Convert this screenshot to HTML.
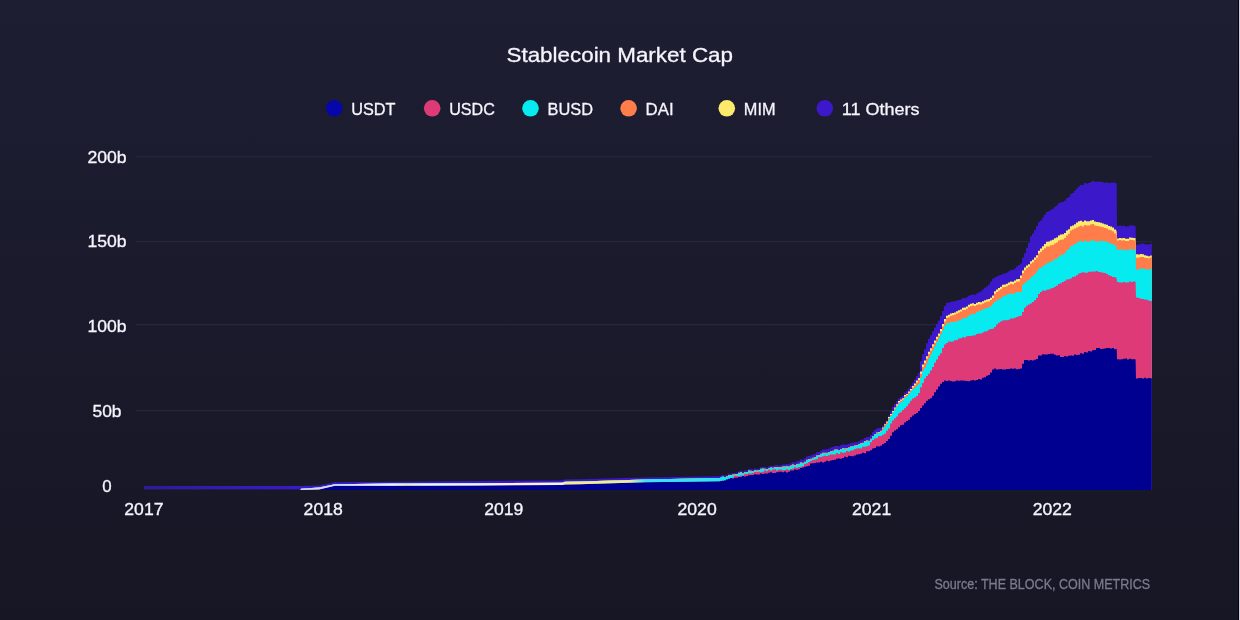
<!DOCTYPE html>
<html><head><meta charset="utf-8"><style>
html,body{margin:0;padding:0;}
body{width:1240px;height:620px;overflow:hidden;background:linear-gradient(to bottom,#1e1e33 0%,#1a1a2c 50%,#161624 100%);}
svg{display:block;position:absolute;left:0;top:0;will-change:transform;}
text{font-family:"Liberation Sans", sans-serif;}
</style></head><body>
<svg width="1240" height="620" viewBox="0 0 1240 620">
<rect x="135.5" y="156" width="1016.5" height="1.3" fill="#26253b"/><rect x="135.5" y="241" width="1016.5" height="1.3" fill="#26253b"/><rect x="135.5" y="324" width="1016.5" height="1.3" fill="#26253b"/><rect x="135.5" y="410" width="1016.5" height="1.3" fill="#26253b"/>
<defs><linearGradient id="lg" gradientUnits="userSpaceOnUse" x1="300" y1="0" x2="722" y2="0"><stop offset="0" stop-color="#d8d0ee"/><stop offset="0.22" stop-color="#f4eefa"/><stop offset="0.25" stop-color="#f0ecc0"/><stop offset="0.3" stop-color="#f6f2fa"/><stop offset="0.62" stop-color="#f6f2fa"/><stop offset="0.63" stop-color="#f2ea90"/><stop offset="0.78" stop-color="#f2e8a0"/><stop offset="0.82" stop-color="#3ee0f0"/><stop offset="1" stop-color="#2ee2f4"/></linearGradient><linearGradient id="pg" gradientUnits="userSpaceOnUse" x1="144" y1="0" x2="300" y2="0"><stop offset="0" stop-color="#2c1e92"/><stop offset="0.5" stop-color="#301ea6"/><stop offset="1" stop-color="#3a1ac6"/></linearGradient></defs><path d="M144.0,490 L144.0,486.2 L300.0,486.0 L319.0,485.5 L335.0,482.3 L393.0,481.8 L480.0,481.0 L562.0,480.6 L565.0,479.6 L580.0,479.2 L645.0,477.5 L720.0,476.2 L722.0,475.0 L724.0,475.0 L724.0,475.6 L726.0,475.6 L726.0,475.0 L728.0,475.0 L728.0,473.8 L730.0,473.8 L730.0,473.7 L732.0,473.7 L732.0,473.2 L734.0,473.2 L734.0,473.1 L736.0,473.1 L736.0,472.8 L738.0,472.8 L738.0,471.4 L740.0,471.4 L740.0,470.8 L742.0,470.8 L742.0,471.5 L744.0,471.5 L744.0,470.5 L746.0,470.5 L746.0,470.5 L748.0,470.5 L748.0,469.0 L750.0,469.0 L750.0,469.3 L752.0,469.3 L752.0,469.4 L754.0,469.4 L754.0,468.4 L756.0,468.4 L756.0,469.1 L758.0,469.1 L758.0,468.7 L760.0,468.7 L760.0,467.2 L762.0,467.2 L762.0,466.9 L764.0,466.9 L764.0,467.3 L766.0,467.3 L766.0,467.5 L768.0,467.5 L768.0,466.4 L770.0,466.4 L770.0,466.0 L772.0,466.0 L772.0,466.0 L774.0,466.0 L774.0,465.3 L776.0,465.3 L776.0,465.3 L778.0,465.3 L778.0,465.4 L780.0,465.4 L780.0,465.2 L782.0,465.2 L782.0,464.6 L784.0,464.6 L784.0,464.4 L786.0,464.4 L786.0,464.1 L788.0,464.1 L788.0,464.2 L790.0,464.2 L790.0,463.3 L792.0,463.3 L792.0,462.2 L794.0,462.2 L794.0,462.6 L796.0,462.6 L796.0,461.4 L798.0,461.4 L798.0,460.8 L800.0,460.8 L800.0,459.4 L802.0,459.4 L802.0,459.7 L804.0,459.7 L804.0,458.6 L806.0,458.6 L806.0,456.6 L808.0,456.6 L808.0,455.9 L810.0,455.9 L810.0,455.5 L812.0,455.5 L812.0,454.5 L814.0,454.5 L814.0,453.9 L816.0,453.9 L816.0,452.2 L818.0,452.2 L818.0,451.9 L820.0,451.9 L820.0,450.7 L822.0,450.7 L822.0,449.6 L824.0,449.6 L824.0,449.5 L826.0,449.5 L826.0,449.3 L828.0,449.3 L828.0,448.7 L830.0,448.7 L830.0,447.6 L832.0,447.6 L832.0,447.1 L834.0,447.1 L834.0,446.0 L836.0,446.0 L836.0,445.9 L838.0,445.9 L838.0,446.3 L840.0,446.3 L840.0,445.3 L842.0,445.3 L842.0,444.6 L844.0,444.6 L844.0,444.8 L846.0,444.8 L846.0,444.5 L848.0,444.5 L848.0,444.0 L850.0,444.0 L850.0,443.1 L852.0,443.1 L852.0,442.7 L854.0,442.7 L854.0,442.3 L856.0,442.3 L856.0,442.2 L858.0,442.2 L858.0,441.3 L860.0,441.3 L860.0,440.3 L862.0,440.3 L862.0,439.5 L864.0,439.5 L864.0,437.9 L866.0,437.9 L866.0,437.1 L868.0,437.1 L868.0,437.1 L870.0,437.1 L870.0,435.0 L872.0,435.0 L872.0,431.9 L874.0,431.9 L874.0,429.9 L876.0,429.9 L876.0,428.5 L878.0,428.5 L878.0,428.0 L880.0,428.0 L880.0,427.7 L882.0,427.7 L882.0,425.7 L884.0,425.7 L884.0,423.0 L886.0,423.0 L886.0,421.0 L888.0,421.0 L888.0,415.5 L890.0,415.5 L890.0,411.2 L892.0,411.2 L892.0,407.1 L894.0,407.1 L894.0,404.0 L896.0,404.0 L896.0,401.2 L898.0,401.2 L898.0,398.4 L900.0,398.4 L900.0,396.9 L902.0,396.9 L902.0,395.7 L904.0,395.7 L904.0,392.5 L906.0,392.5 L906.0,391.3 L908.0,391.3 L908.0,388.5 L910.0,388.5 L910.0,385.8 L912.0,385.8 L912.0,382.7 L914.0,382.7 L914.0,379.6 L916.0,379.6 L916.0,376.1 L918.0,376.1 L918.0,373.0 L920.0,373.0 L920.0,360.9 L922.0,360.9 L922.0,354.3 L924.0,354.3 L924.0,349.3 L926.0,349.3 L926.0,343.3 L928.0,343.3 L928.0,338.8 L930.0,338.8 L930.0,335.3 L932.0,335.3 L932.0,331.3 L934.0,331.3 L934.0,327.5 L936.0,327.5 L936.0,323.8 L938.0,323.8 L938.0,320.5 L940.0,320.5 L940.0,316.0 L942.0,316.0 L942.0,311.1 L944.0,311.1 L944.0,306.1 L946.0,306.1 L946.0,303.1 L948.0,303.1 L948.0,302.5 L950.0,302.5 L950.0,301.7 L952.0,301.7 L952.0,301.5 L954.0,301.5 L954.0,301.3 L956.0,301.3 L956.0,300.6 L958.0,300.6 L958.0,300.0 L960.0,300.0 L960.0,299.4 L962.0,299.4 L962.0,298.0 L964.0,298.0 L964.0,298.2 L966.0,298.2 L966.0,297.3 L968.0,297.3 L968.0,295.8 L970.0,295.8 L970.0,295.1 L972.0,295.1 L972.0,294.4 L974.0,294.4 L974.0,294.8 L976.0,294.8 L976.0,293.5 L978.0,293.5 L978.0,292.2 L980.0,292.2 L980.0,291.5 L982.0,291.5 L982.0,289.6 L984.0,289.6 L984.0,287.7 L986.0,287.7 L986.0,286.4 L988.0,286.4 L988.0,284.7 L990.0,284.7 L990.0,281.4 L992.0,281.4 L992.0,278.8 L994.0,278.8 L994.0,277.6 L996.0,277.6 L996.0,276.5 L998.0,276.5 L998.0,275.6 L1000.0,275.6 L1000.0,275.0 L1002.0,275.0 L1002.0,273.7 L1004.0,273.7 L1004.0,273.4 L1006.0,273.4 L1006.0,272.6 L1008.0,272.6 L1008.0,271.2 L1010.0,271.2 L1010.0,270.1 L1012.0,270.1 L1012.0,270.1 L1014.0,270.1 L1014.0,268.5 L1016.0,268.5 L1016.0,266.6 L1018.0,266.6 L1018.0,265.1 L1020.0,265.1 L1020.0,263.4 L1022.0,263.4 L1022.0,257.8 L1024.0,257.8 L1024.0,253.3 L1026.0,253.3 L1026.0,247.8 L1028.0,247.8 L1028.0,242.8 L1030.0,242.8 L1030.0,236.3 L1032.0,236.3 L1032.0,233.5 L1034.0,233.5 L1034.0,229.9 L1036.0,229.9 L1036.0,226.1 L1038.0,226.1 L1038.0,222.1 L1040.0,222.1 L1040.0,220.5 L1042.0,220.5 L1042.0,217.6 L1044.0,217.6 L1044.0,214.6 L1046.0,214.6 L1046.0,211.9 L1048.0,211.9 L1048.0,211.3 L1050.0,211.3 L1050.0,209.8 L1052.0,209.8 L1052.0,208.8 L1054.0,208.8 L1054.0,206.8 L1056.0,206.8 L1056.0,205.6 L1058.0,205.6 L1058.0,203.2 L1060.0,203.2 L1060.0,202.3 L1062.0,202.3 L1062.0,202.1 L1064.0,202.1 L1064.0,200.8 L1066.0,200.8 L1066.0,198.3 L1068.0,198.3 L1068.0,197.0 L1070.0,197.0 L1070.0,194.0 L1072.0,194.0 L1072.0,192.9 L1074.0,192.9 L1074.0,190.8 L1076.0,190.8 L1076.0,188.5 L1078.0,188.5 L1078.0,186.5 L1080.0,186.5 L1080.0,185.0 L1082.0,185.0 L1082.0,185.1 L1084.0,185.1 L1084.0,182.9 L1086.0,182.9 L1086.0,183.4 L1088.0,183.4 L1088.0,183.1 L1090.0,183.1 L1090.0,182.0 L1092.0,182.0 L1092.0,181.0 L1094.0,181.0 L1094.0,181.8 L1096.0,181.8 L1096.0,181.8 L1098.0,181.8 L1098.0,181.6 L1100.0,181.6 L1100.0,181.9 L1102.0,181.9 L1102.0,182.3 L1104.0,182.3 L1104.0,182.7 L1106.0,182.7 L1106.0,182.5 L1108.0,182.5 L1108.0,183.1 L1110.0,183.1 L1110.0,182.8 L1112.0,182.8 L1112.0,182.6 L1114.0,182.6 L1114.0,182.7 L1116.0,182.7 L1116.0,182.7 L1116.7,183.5 L1117.0,225.9 L1117.0,226.1 L1119.0,226.1 L1119.0,225.6 L1121.0,225.6 L1121.0,225.9 L1123.0,225.9 L1123.0,225.7 L1125.0,225.7 L1125.0,226.4 L1127.0,226.4 L1127.0,226.5 L1129.0,226.5 L1129.0,225.2 L1131.0,225.2 L1131.0,225.5 L1133.0,225.5 L1133.0,225.7 L1135.0,225.7 L1135.0,225.7 L1135.6,225.9 L1136.0,244.0 L1136.0,244.7 L1138.0,244.7 L1138.0,244.4 L1140.0,244.4 L1140.0,243.8 L1142.0,243.8 L1142.0,243.6 L1144.0,243.6 L1144.0,244.2 L1146.0,244.2 L1146.0,244.5 L1148.0,244.5 L1148.0,244.6 L1150.0,244.6 L1150.0,243.8 L1151.8,243.8 L1151.8,244.0 L1151.8,490 Z" fill="#3b18ca"/>
<path d="M144.0,490 L144.0,490.0 L300.0,490.0 L301.0,488.8 L319.0,487.4 L335.0,484.3 L393.0,483.5 L480.0,483.2 L562.0,482.8 L565.0,481.8 L580.0,481.4 L645.0,479.4 L720.0,478.0 L722.0,476.7 L724.0,476.7 L724.0,477.2 L726.0,477.2 L726.0,476.5 L728.0,476.5 L728.0,475.3 L730.0,475.3 L730.0,475.1 L732.0,475.1 L732.0,474.5 L734.0,474.5 L734.0,474.3 L736.0,474.3 L736.0,474.1 L738.0,474.1 L738.0,472.7 L740.0,472.7 L740.0,472.2 L742.0,472.2 L742.0,472.9 L744.0,472.9 L744.0,471.9 L746.0,471.9 L746.0,472.0 L748.0,472.0 L748.0,470.5 L750.0,470.5 L750.0,470.8 L752.0,470.8 L752.0,470.9 L754.0,470.9 L754.0,469.9 L756.0,469.9 L756.0,470.6 L758.0,470.6 L758.0,470.2 L760.0,470.2 L760.0,468.7 L762.0,468.7 L762.0,468.4 L764.0,468.4 L764.0,468.8 L766.0,468.8 L766.0,469.0 L768.0,469.0 L768.0,467.9 L770.0,467.9 L770.0,467.5 L772.0,467.5 L772.0,467.7 L774.0,467.7 L774.0,467.0 L776.0,467.0 L776.0,467.1 L778.0,467.1 L778.0,467.2 L780.0,467.2 L780.0,467.1 L782.0,467.1 L782.0,466.6 L784.0,466.6 L784.0,466.4 L786.0,466.4 L786.0,466.3 L788.0,466.3 L788.0,466.4 L790.0,466.4 L790.0,465.6 L792.0,465.6 L792.0,464.6 L794.0,464.6 L794.0,465.2 L796.0,465.2 L796.0,464.2 L798.0,464.2 L798.0,463.7 L800.0,463.7 L800.0,462.5 L802.0,462.5 L802.0,462.8 L804.0,462.8 L804.0,461.7 L806.0,461.7 L806.0,459.7 L808.0,459.7 L808.0,459.1 L810.0,459.1 L810.0,458.7 L812.0,458.7 L812.0,457.8 L814.0,457.8 L814.0,457.2 L816.0,457.2 L816.0,455.5 L818.0,455.5 L818.0,455.0 L820.0,455.0 L820.0,453.8 L822.0,453.8 L822.0,452.8 L824.0,452.8 L824.0,452.8 L826.0,452.8 L826.0,452.7 L828.0,452.7 L828.0,452.2 L830.0,452.2 L830.0,451.2 L832.0,451.2 L832.0,450.8 L834.0,450.8 L834.0,449.6 L836.0,449.6 L836.0,449.5 L838.0,449.5 L838.0,449.9 L840.0,449.9 L840.0,449.0 L842.0,449.0 L842.0,448.2 L844.0,448.2 L844.0,448.4 L846.0,448.4 L846.0,448.1 L848.0,448.1 L848.0,447.4 L850.0,447.4 L850.0,446.4 L852.0,446.4 L852.0,445.9 L854.0,445.9 L854.0,445.4 L856.0,445.4 L856.0,445.2 L858.0,445.2 L858.0,444.2 L860.0,444.2 L860.0,443.3 L862.0,443.3 L862.0,442.7 L864.0,442.7 L864.0,441.3 L866.0,441.3 L866.0,440.5 L868.0,440.5 L868.0,440.7 L870.0,440.7 L870.0,438.8 L872.0,438.8 L872.0,435.9 L874.0,435.9 L874.0,434.0 L876.0,434.0 L876.0,432.6 L878.0,432.6 L878.0,432.1 L880.0,432.1 L880.0,430.8 L882.0,430.8 L882.0,427.5 L884.0,427.5 L884.0,424.3 L886.0,424.3 L886.0,421.6 L888.0,421.6 L888.0,417.1 L890.0,417.1 L890.0,413.9 L892.0,413.9 L892.0,410.9 L894.0,410.9 L894.0,407.4 L896.0,407.4 L896.0,404.2 L898.0,404.2 L898.0,401.0 L900.0,401.0 L900.0,399.5 L902.0,399.5 L902.0,398.2 L904.0,398.2 L904.0,395.0 L906.0,395.0 L906.0,393.9 L908.0,393.9 L908.0,391.4 L910.0,391.4 L910.0,388.9 L912.0,388.9 L912.0,386.1 L914.0,386.1 L914.0,383.6 L916.0,383.6 L916.0,380.6 L918.0,380.6 L918.0,378.1 L920.0,378.1 L920.0,371.5 L922.0,371.5 L922.0,364.6 L924.0,364.6 L924.0,360.5 L926.0,360.5 L926.0,356.2 L928.0,356.2 L928.0,351.7 L930.0,351.7 L930.0,348.2 L932.0,348.2 L932.0,344.2 L934.0,344.2 L934.0,340.4 L936.0,340.4 L936.0,336.7 L938.0,336.7 L938.0,333.4 L940.0,333.4 L940.0,328.9 L942.0,328.9 L942.0,324.0 L944.0,324.0 L944.0,319.0 L946.0,319.0 L946.0,315.7 L948.0,315.7 L948.0,314.8 L950.0,314.8 L950.0,313.5 L952.0,313.5 L952.0,313.0 L954.0,313.0 L954.0,312.4 L956.0,312.4 L956.0,311.3 L958.0,311.3 L958.0,310.3 L960.0,310.3 L960.0,309.4 L962.0,309.4 L962.0,307.7 L964.0,307.7 L964.0,307.6 L966.0,307.6 L966.0,306.5 L968.0,306.5 L968.0,304.8 L970.0,304.8 L970.0,303.8 L972.0,303.8 L972.0,303.2 L974.0,303.2 L974.0,303.9 L976.0,303.9 L976.0,302.8 L978.0,302.8 L978.0,302.1 L980.0,302.1 L980.0,302.2 L982.0,302.2 L982.0,301.2 L984.0,301.2 L984.0,300.2 L986.0,300.2 L986.0,299.5 L988.0,299.5 L988.0,299.1 L990.0,299.1 L990.0,297.8 L992.0,297.8 L992.0,295.5 L994.0,295.5 L994.0,291.2 L996.0,291.2 L996.0,289.5 L998.0,289.5 L998.0,287.9 L1000.0,287.9 L1000.0,286.8 L1002.0,286.8 L1002.0,284.8 L1004.0,284.8 L1004.0,284.5 L1006.0,284.5 L1006.0,283.7 L1008.0,283.7 L1008.0,282.5 L1010.0,282.5 L1010.0,281.5 L1012.0,281.5 L1012.0,281.8 L1014.0,281.8 L1014.0,280.5 L1016.0,280.5 L1016.0,279.3 L1018.0,279.3 L1018.0,279.1 L1020.0,279.1 L1020.0,275.6 L1022.0,275.6 L1022.0,270.6 L1024.0,270.6 L1024.0,267.6 L1026.0,267.6 L1026.0,265.6 L1028.0,265.6 L1028.0,264.2 L1030.0,264.2 L1030.0,261.2 L1032.0,261.2 L1032.0,259.8 L1034.0,259.8 L1034.0,257.6 L1036.0,257.6 L1036.0,255.3 L1038.0,255.3 L1038.0,250.7 L1040.0,250.7 L1040.0,248.6 L1042.0,248.6 L1042.0,246.3 L1044.0,246.3 L1044.0,243.9 L1046.0,243.9 L1046.0,241.7 L1048.0,241.7 L1048.0,241.5 L1050.0,241.5 L1050.0,240.4 L1052.0,240.4 L1052.0,239.8 L1054.0,239.8 L1054.0,238.2 L1056.0,238.2 L1056.0,237.4 L1058.0,237.4 L1058.0,235.4 L1060.0,235.4 L1060.0,234.6 L1062.0,234.6 L1062.0,234.3 L1064.0,234.3 L1064.0,233.0 L1066.0,233.0 L1066.0,230.6 L1068.0,230.6 L1068.0,229.2 L1070.0,229.2 L1070.0,226.3 L1072.0,226.3 L1072.0,225.6 L1074.0,225.6 L1074.0,224.2 L1076.0,224.2 L1076.0,222.6 L1078.0,222.6 L1078.0,221.3 L1080.0,221.3 L1080.0,220.7 L1082.0,220.7 L1082.0,221.7 L1084.0,221.7 L1084.0,220.4 L1086.0,220.4 L1086.0,221.2 L1088.0,221.2 L1088.0,221.2 L1090.0,221.2 L1090.0,220.5 L1092.0,220.5 L1092.0,220.1 L1094.0,220.1 L1094.0,221.5 L1096.0,221.5 L1096.0,222.0 L1098.0,222.0 L1098.0,222.3 L1100.0,222.3 L1100.0,222.8 L1102.0,222.8 L1102.0,223.4 L1104.0,223.4 L1104.0,224.2 L1106.0,224.2 L1106.0,224.7 L1108.0,224.7 L1108.0,226.0 L1110.0,226.0 L1110.0,226.4 L1112.0,226.4 L1112.0,227.5 L1114.0,227.5 L1114.0,229.5 L1116.0,229.5 L1116.0,229.5 L1116.7,231.9 L1117.0,238.2 L1117.0,238.4 L1119.0,238.4 L1119.0,237.9 L1121.0,237.9 L1121.0,238.2 L1123.0,238.2 L1123.0,238.0 L1125.0,238.0 L1125.0,238.7 L1127.0,238.7 L1127.0,238.8 L1129.0,238.8 L1129.0,237.5 L1131.0,237.5 L1131.0,237.8 L1133.0,237.8 L1133.0,238.0 L1135.0,238.0 L1135.0,238.0 L1135.6,238.2 L1136.0,253.5 L1136.0,254.3 L1138.0,254.3 L1138.0,254.4 L1140.0,254.4 L1140.0,254.1 L1142.0,254.1 L1142.0,254.2 L1144.0,254.2 L1144.0,255.2 L1146.0,255.2 L1146.0,255.7 L1148.0,255.7 L1148.0,256.2 L1150.0,256.2 L1150.0,255.6 L1151.8,255.6 L1151.8,256.0 L1151.8,490 Z" fill="#fde96a"/>
<path d="M144.0,490 L144.0,490.0 L300.0,490.0 L301.0,488.8 L319.0,487.4 L335.0,484.3 L393.0,483.5 L480.0,483.2 L562.0,482.8 L565.0,481.8 L580.0,481.4 L645.0,479.4 L720.0,478.0 L722.0,476.7 L724.0,476.7 L724.0,477.2 L726.0,477.2 L726.0,476.6 L728.0,476.6 L728.0,475.4 L730.0,475.4 L730.0,475.2 L732.0,475.2 L732.0,474.7 L734.0,474.7 L734.0,474.5 L736.0,474.5 L736.0,474.3 L738.0,474.3 L738.0,472.9 L740.0,472.9 L740.0,472.4 L742.0,472.4 L742.0,473.1 L744.0,473.1 L744.0,472.1 L746.0,472.1 L746.0,472.2 L748.0,472.2 L748.0,470.7 L750.0,470.7 L750.0,471.0 L752.0,471.0 L752.0,471.1 L754.0,471.1 L754.0,470.1 L756.0,470.1 L756.0,470.8 L758.0,470.8 L758.0,470.4 L760.0,470.4 L760.0,468.9 L762.0,468.9 L762.0,468.6 L764.0,468.6 L764.0,469.0 L766.0,469.0 L766.0,469.2 L768.0,469.2 L768.0,468.1 L770.0,468.1 L770.0,467.7 L772.0,467.7 L772.0,467.9 L774.0,467.9 L774.0,467.2 L776.0,467.2 L776.0,467.3 L778.0,467.3 L778.0,467.4 L780.0,467.4 L780.0,467.3 L782.0,467.3 L782.0,466.8 L784.0,466.8 L784.0,466.6 L786.0,466.6 L786.0,466.5 L788.0,466.5 L788.0,466.6 L790.0,466.6 L790.0,465.8 L792.0,465.8 L792.0,464.8 L794.0,464.8 L794.0,465.4 L796.0,465.4 L796.0,464.4 L798.0,464.4 L798.0,463.9 L800.0,463.9 L800.0,462.7 L802.0,462.7 L802.0,463.0 L804.0,463.0 L804.0,461.9 L806.0,461.9 L806.0,459.9 L808.0,459.9 L808.0,459.3 L810.0,459.3 L810.0,458.9 L812.0,458.9 L812.0,458.0 L814.0,458.0 L814.0,457.4 L816.0,457.4 L816.0,455.7 L818.0,455.7 L818.0,455.2 L820.0,455.2 L820.0,454.0 L822.0,454.0 L822.0,453.0 L824.0,453.0 L824.0,453.0 L826.0,453.0 L826.0,452.9 L828.0,452.9 L828.0,452.4 L830.0,452.4 L830.0,451.4 L832.0,451.4 L832.0,451.0 L834.0,451.0 L834.0,449.8 L836.0,449.8 L836.0,449.7 L838.0,449.7 L838.0,450.1 L840.0,450.1 L840.0,449.2 L842.0,449.2 L842.0,448.4 L844.0,448.4 L844.0,448.6 L846.0,448.6 L846.0,448.3 L848.0,448.3 L848.0,447.6 L850.0,447.6 L850.0,446.6 L852.0,446.6 L852.0,446.1 L854.0,446.1 L854.0,445.6 L856.0,445.6 L856.0,445.4 L858.0,445.4 L858.0,444.4 L860.0,444.4 L860.0,443.5 L862.0,443.5 L862.0,442.9 L864.0,442.9 L864.0,441.5 L866.0,441.5 L866.0,440.7 L868.0,440.7 L868.0,440.9 L870.0,440.9 L870.0,439.0 L872.0,439.0 L872.0,436.1 L874.0,436.1 L874.0,434.2 L876.0,434.2 L876.0,432.9 L878.0,432.9 L878.0,432.5 L880.0,432.5 L880.0,431.3 L882.0,431.3 L882.0,428.2 L884.0,428.2 L884.0,425.1 L886.0,425.1 L886.0,422.6 L888.0,422.6 L888.0,418.1 L890.0,418.1 L890.0,414.9 L892.0,414.9 L892.0,411.9 L894.0,411.9 L894.0,408.5 L896.0,408.5 L896.0,405.4 L898.0,405.4 L898.0,402.2 L900.0,402.2 L900.0,400.7 L902.0,400.7 L902.0,399.4 L904.0,399.4 L904.0,396.2 L906.0,396.2 L906.0,395.1 L908.0,395.1 L908.0,392.7 L910.0,392.7 L910.0,390.3 L912.0,390.3 L912.0,387.6 L914.0,387.6 L914.0,385.3 L916.0,385.3 L916.0,382.5 L918.0,382.5 L918.0,380.1 L920.0,380.1 L920.0,373.7 L922.0,373.7 L922.0,367.0 L924.0,367.0 L924.0,363.0 L926.0,363.0 L926.0,358.6 L928.0,358.6 L928.0,354.1 L930.0,354.1 L930.0,350.5 L932.0,350.5 L932.0,346.5 L934.0,346.5 L934.0,342.7 L936.0,342.7 L936.0,339.1 L938.0,339.1 L938.0,335.8 L940.0,335.8 L940.0,331.3 L942.0,331.3 L942.0,326.4 L944.0,326.4 L944.0,321.4 L946.0,321.4 L946.0,318.1 L948.0,318.1 L948.0,317.2 L950.0,317.2 L950.0,315.8 L952.0,315.8 L952.0,315.3 L954.0,315.3 L954.0,314.6 L956.0,314.6 L956.0,313.5 L958.0,313.5 L958.0,312.5 L960.0,312.5 L960.0,311.6 L962.0,311.6 L962.0,310.0 L964.0,310.0 L964.0,309.9 L966.0,309.9 L966.0,308.8 L968.0,308.8 L968.0,307.1 L970.0,307.1 L970.0,306.1 L972.0,306.1 L972.0,305.5 L974.0,305.5 L974.0,306.1 L976.0,306.1 L976.0,304.9 L978.0,304.9 L978.0,304.2 L980.0,304.2 L980.0,304.4 L982.0,304.4 L982.0,303.5 L984.0,303.5 L984.0,302.5 L986.0,302.5 L986.0,301.8 L988.0,301.8 L988.0,301.4 L990.0,301.4 L990.0,300.1 L992.0,300.1 L992.0,297.9 L994.0,297.9 L994.0,293.7 L996.0,293.7 L996.0,292.0 L998.0,292.0 L998.0,290.4 L1000.0,290.4 L1000.0,289.3 L1002.0,289.3 L1002.0,287.3 L1004.0,287.3 L1004.0,287.0 L1006.0,287.0 L1006.0,286.2 L1008.0,286.2 L1008.0,285.0 L1010.0,285.0 L1010.0,284.0 L1012.0,284.0 L1012.0,284.3 L1014.0,284.3 L1014.0,283.0 L1016.0,283.0 L1016.0,281.8 L1018.0,281.8 L1018.0,281.6 L1020.0,281.6 L1020.0,278.1 L1022.0,278.1 L1022.0,273.2 L1024.0,273.2 L1024.0,270.2 L1026.0,270.2 L1026.0,268.1 L1028.0,268.1 L1028.0,266.7 L1030.0,266.7 L1030.0,263.7 L1032.0,263.7 L1032.0,262.3 L1034.0,262.3 L1034.0,260.1 L1036.0,260.1 L1036.0,257.8 L1038.0,257.8 L1038.0,253.5 L1040.0,253.5 L1040.0,251.9 L1042.0,251.9 L1042.0,250.1 L1044.0,250.1 L1044.0,248.2 L1046.0,248.2 L1046.0,246.4 L1048.0,246.4 L1048.0,246.4 L1050.0,246.4 L1050.0,245.3 L1052.0,245.3 L1052.0,244.9 L1054.0,244.9 L1054.0,243.4 L1056.0,243.4 L1056.0,242.6 L1058.0,242.6 L1058.0,240.6 L1060.0,240.6 L1060.0,239.7 L1062.0,239.7 L1062.0,239.5 L1064.0,239.5 L1064.0,238.1 L1066.0,238.1 L1066.0,235.5 L1068.0,235.5 L1068.0,233.7 L1070.0,233.7 L1070.0,230.4 L1072.0,230.4 L1072.0,229.6 L1074.0,229.6 L1074.0,228.6 L1076.0,228.6 L1076.0,227.4 L1078.0,227.4 L1078.0,226.5 L1080.0,226.5 L1080.0,225.7 L1082.0,225.7 L1082.0,226.5 L1084.0,226.5 L1084.0,224.9 L1086.0,224.9 L1086.0,225.6 L1088.0,225.6 L1088.0,225.4 L1090.0,225.4 L1090.0,224.5 L1092.0,224.5 L1092.0,224.0 L1094.0,224.0 L1094.0,225.4 L1096.0,225.4 L1096.0,225.9 L1098.0,225.9 L1098.0,226.2 L1100.0,226.2 L1100.0,226.7 L1102.0,226.7 L1102.0,227.3 L1104.0,227.3 L1104.0,228.0 L1106.0,228.0 L1106.0,228.5 L1108.0,228.5 L1108.0,229.8 L1110.0,229.8 L1110.0,230.2 L1112.0,230.2 L1112.0,231.3 L1114.0,231.3 L1114.0,233.5 L1116.0,233.5 L1116.0,233.5 L1116.7,236.0 L1117.0,240.4 L1117.0,240.6 L1119.0,240.6 L1119.0,240.1 L1121.0,240.1 L1121.0,240.4 L1123.0,240.4 L1123.0,240.2 L1125.0,240.2 L1125.0,240.9 L1127.0,240.9 L1127.0,241.0 L1129.0,241.0 L1129.0,239.7 L1131.0,239.7 L1131.0,240.0 L1133.0,240.0 L1133.0,240.2 L1135.0,240.2 L1135.0,240.2 L1135.6,240.4 L1136.0,257.0 L1136.0,257.7 L1138.0,257.7 L1138.0,257.5 L1140.0,257.5 L1140.0,257.0 L1142.0,257.0 L1142.0,257.0 L1144.0,257.0 L1144.0,257.7 L1146.0,257.7 L1146.0,258.0 L1148.0,258.0 L1148.0,258.3 L1150.0,258.3 L1150.0,257.5 L1151.8,257.5 L1151.8,257.8 L1151.8,490 Z" fill="#ff7d4a"/>
<path d="M144.0,490 L144.0,490.0 L300.0,490.0 L301.0,488.8 L319.0,487.4 L335.0,484.3 L393.0,483.5 L480.0,483.2 L562.0,482.8 L565.0,481.8 L580.0,481.4 L645.0,479.4 L720.0,478.0 L722.0,476.8 L724.0,476.8 L724.0,477.4 L726.0,477.4 L726.0,476.8 L728.0,476.8 L728.0,475.7 L730.0,475.7 L730.0,475.6 L732.0,475.6 L732.0,475.1 L734.0,475.1 L734.0,474.9 L736.0,474.9 L736.0,474.7 L738.0,474.7 L738.0,473.3 L740.0,473.3 L740.0,472.8 L742.0,472.8 L742.0,473.5 L744.0,473.5 L744.0,472.5 L746.0,472.5 L746.0,472.6 L748.0,472.6 L748.0,471.1 L750.0,471.1 L750.0,471.4 L752.0,471.4 L752.0,471.5 L754.0,471.5 L754.0,470.5 L756.0,470.5 L756.0,471.2 L758.0,471.2 L758.0,470.8 L760.0,470.8 L760.0,469.3 L762.0,469.3 L762.0,469.0 L764.0,469.0 L764.0,469.4 L766.0,469.4 L766.0,469.6 L768.0,469.6 L768.0,468.5 L770.0,468.5 L770.0,468.1 L772.0,468.1 L772.0,468.3 L774.0,468.3 L774.0,467.6 L776.0,467.6 L776.0,467.7 L778.0,467.7 L778.0,467.8 L780.0,467.8 L780.0,467.7 L782.0,467.7 L782.0,467.2 L784.0,467.2 L784.0,467.0 L786.0,467.0 L786.0,466.9 L788.0,466.9 L788.0,467.0 L790.0,467.0 L790.0,466.2 L792.0,466.2 L792.0,465.2 L794.0,465.2 L794.0,465.8 L796.0,465.8 L796.0,464.8 L798.0,464.8 L798.0,464.3 L800.0,464.3 L800.0,463.1 L802.0,463.1 L802.0,463.4 L804.0,463.4 L804.0,462.3 L806.0,462.3 L806.0,460.3 L808.0,460.3 L808.0,459.7 L810.0,459.7 L810.0,459.3 L812.0,459.3 L812.0,458.4 L814.0,458.4 L814.0,457.8 L816.0,457.8 L816.0,456.1 L818.0,456.1 L818.0,455.6 L820.0,455.6 L820.0,454.4 L822.0,454.4 L822.0,453.4 L824.0,453.4 L824.0,453.4 L826.0,453.4 L826.0,453.3 L828.0,453.3 L828.0,452.8 L830.0,452.8 L830.0,451.8 L832.0,451.8 L832.0,451.4 L834.0,451.4 L834.0,450.2 L836.0,450.2 L836.0,450.1 L838.0,450.1 L838.0,450.5 L840.0,450.5 L840.0,449.6 L842.0,449.6 L842.0,448.8 L844.0,448.8 L844.0,449.0 L846.0,449.0 L846.0,448.7 L848.0,448.7 L848.0,448.0 L850.0,448.0 L850.0,447.0 L852.0,447.0 L852.0,446.5 L854.0,446.5 L854.0,446.0 L856.0,446.0 L856.0,445.8 L858.0,445.8 L858.0,444.8 L860.0,444.8 L860.0,443.9 L862.0,443.9 L862.0,443.3 L864.0,443.3 L864.0,441.9 L866.0,441.9 L866.0,441.1 L868.0,441.1 L868.0,441.3 L870.0,441.3 L870.0,439.4 L872.0,439.4 L872.0,436.5 L874.0,436.5 L874.0,434.6 L876.0,434.6 L876.0,433.4 L878.0,433.4 L878.0,433.0 L880.0,433.0 L880.0,432.1 L882.0,432.1 L882.0,429.4 L884.0,429.4 L884.0,426.7 L886.0,426.7 L886.0,424.3 L888.0,424.3 L888.0,419.5 L890.0,419.5 L890.0,416.0 L892.0,416.0 L892.0,412.6 L894.0,412.6 L894.0,409.4 L896.0,409.4 L896.0,406.5 L898.0,406.5 L898.0,403.6 L900.0,403.6 L900.0,402.1 L902.0,402.1 L902.0,400.8 L904.0,400.8 L904.0,397.6 L906.0,397.6 L906.0,396.5 L908.0,396.5 L908.0,394.0 L910.0,394.0 L910.0,391.5 L912.0,391.5 L912.0,389.2 L914.0,389.2 L914.0,387.7 L916.0,387.7 L916.0,385.7 L918.0,385.7 L918.0,384.1 L920.0,384.1 L920.0,377.6 L922.0,377.6 L922.0,370.9 L924.0,370.9 L924.0,367.8 L926.0,367.8 L926.0,363.2 L928.0,363.2 L928.0,358.4 L930.0,358.4 L930.0,354.6 L932.0,354.6 L932.0,350.4 L934.0,350.4 L934.0,346.2 L936.0,346.2 L936.0,342.2 L938.0,342.2 L938.0,338.5 L940.0,338.5 L940.0,334.5 L942.0,334.5 L942.0,330.3 L944.0,330.3 L944.0,325.8 L946.0,325.8 L946.0,323.2 L948.0,323.2 L948.0,322.9 L950.0,322.9 L950.0,322.2 L952.0,322.2 L952.0,322.1 L954.0,322.1 L954.0,321.9 L956.0,321.9 L956.0,321.2 L958.0,321.2 L958.0,320.6 L960.0,320.6 L960.0,319.8 L962.0,319.8 L962.0,318.3 L964.0,318.3 L964.0,318.3 L966.0,318.3 L966.0,317.3 L968.0,317.3 L968.0,315.6 L970.0,315.6 L970.0,314.8 L972.0,314.8 L972.0,313.8 L974.0,313.8 L974.0,313.9 L976.0,313.9 L976.0,312.1 L978.0,312.1 L978.0,311.0 L980.0,311.0 L980.0,310.8 L982.0,310.8 L982.0,309.6 L984.0,309.6 L984.0,308.5 L986.0,308.5 L986.0,307.9 L988.0,307.9 L988.0,307.6 L990.0,307.6 L990.0,306.3 L992.0,306.3 L992.0,303.8 L994.0,303.8 L994.0,301.8 L996.0,301.8 L996.0,300.4 L998.0,300.4 L998.0,299.3 L1000.0,299.3 L1000.0,298.3 L1002.0,298.3 L1002.0,296.4 L1004.0,296.4 L1004.0,295.7 L1006.0,295.7 L1006.0,294.8 L1008.0,294.8 L1008.0,294.0 L1010.0,294.0 L1010.0,293.4 L1012.0,293.4 L1012.0,293.9 L1014.0,293.9 L1014.0,292.9 L1016.0,292.9 L1016.0,292.0 L1018.0,292.0 L1018.0,292.1 L1020.0,292.1 L1020.0,291.9 L1022.0,291.9 L1022.0,284.8 L1024.0,284.8 L1024.0,282.8 L1026.0,282.8 L1026.0,281.1 L1028.0,281.1 L1028.0,280.0 L1030.0,280.0 L1030.0,277.3 L1032.0,277.3 L1032.0,276.1 L1034.0,276.1 L1034.0,274.1 L1036.0,274.1 L1036.0,271.4 L1038.0,271.4 L1038.0,268.5 L1040.0,268.5 L1040.0,267.7 L1042.0,267.7 L1042.0,266.3 L1044.0,266.3 L1044.0,264.8 L1046.0,264.8 L1046.0,263.3 L1048.0,263.3 L1048.0,262.8 L1050.0,262.8 L1050.0,261.5 L1052.0,261.5 L1052.0,260.7 L1054.0,260.7 L1054.0,259.2 L1056.0,259.2 L1056.0,258.4 L1058.0,258.4 L1058.0,256.4 L1060.0,256.4 L1060.0,255.3 L1062.0,255.3 L1062.0,254.6 L1064.0,254.6 L1064.0,252.9 L1066.0,252.9 L1066.0,250.3 L1068.0,250.3 L1068.0,248.9 L1070.0,248.9 L1070.0,246.0 L1072.0,246.0 L1072.0,245.3 L1074.0,245.3 L1074.0,244.1 L1076.0,244.1 L1076.0,242.7 L1078.0,242.7 L1078.0,241.6 L1080.0,241.6 L1080.0,241.0 L1082.0,241.0 L1082.0,242.0 L1084.0,242.0 L1084.0,240.7 L1086.0,240.7 L1086.0,241.5 L1088.0,241.5 L1088.0,241.5 L1090.0,241.5 L1090.0,240.8 L1092.0,240.8 L1092.0,240.2 L1094.0,240.2 L1094.0,241.3 L1096.0,241.3 L1096.0,241.5 L1098.0,241.5 L1098.0,241.3 L1100.0,241.3 L1100.0,241.1 L1102.0,241.1 L1102.0,241.0 L1104.0,241.0 L1104.0,241.3 L1106.0,241.3 L1106.0,241.8 L1108.0,241.8 L1108.0,243.1 L1110.0,243.1 L1110.0,243.5 L1112.0,243.5 L1112.0,244.2 L1114.0,244.2 L1114.0,245.6 L1116.0,245.6 L1116.0,245.6 L1116.7,247.5 L1117.0,249.8 L1117.0,250.0 L1119.0,250.0 L1119.0,249.5 L1121.0,249.5 L1121.0,249.8 L1123.0,249.8 L1123.0,249.6 L1125.0,249.6 L1125.0,250.3 L1127.0,250.3 L1127.0,250.4 L1129.0,250.4 L1129.0,249.1 L1131.0,249.1 L1131.0,249.4 L1133.0,249.4 L1133.0,249.6 L1135.0,249.6 L1135.0,249.6 L1135.6,249.8 L1136.0,268.9 L1136.0,269.6 L1138.0,269.6 L1138.0,269.3 L1140.0,269.3 L1140.0,268.7 L1142.0,268.7 L1142.0,268.5 L1144.0,268.5 L1144.0,269.1 L1146.0,269.1 L1146.0,269.4 L1148.0,269.4 L1148.0,269.5 L1150.0,269.5 L1150.0,268.7 L1151.8,268.7 L1151.8,268.9 L1151.8,490 Z" fill="#06ebef"/>
<path d="M144.0,490 L144.0,490.0 L300.0,490.0 L319.0,489.5 L335.0,485.8 L393.0,485.8 L480.0,485.4 L562.0,485.1 L565.0,484.4 L580.0,484.2 L645.0,482.3 L720.0,481.3 L722.0,480.5 L724.0,480.5 L724.0,480.0 L726.0,480.0 L726.0,479.4 L728.0,479.4 L728.0,479.0 L730.0,479.0 L730.0,478.0 L732.0,478.0 L732.0,477.6 L734.0,477.6 L734.0,475.8 L736.0,475.8 L736.0,476.1 L738.0,476.1 L738.0,476.3 L740.0,476.3 L740.0,475.5 L742.0,475.5 L742.0,475.5 L744.0,475.5 L744.0,474.0 L746.0,474.0 L746.0,474.1 L748.0,474.1 L748.0,473.3 L750.0,473.3 L750.0,473.4 L752.0,473.4 L752.0,473.1 L754.0,473.1 L754.0,472.0 L756.0,472.0 L756.0,471.9 L758.0,471.9 L758.0,471.7 L760.0,471.7 L760.0,472.2 L762.0,472.2 L762.0,471.7 L764.0,471.7 L764.0,470.5 L766.0,470.5 L766.0,471.1 L768.0,471.1 L768.0,469.8 L770.0,469.8 L770.0,470.4 L772.0,470.4 L772.0,469.6 L774.0,469.6 L774.0,469.3 L776.0,469.3 L776.0,470.5 L778.0,470.5 L778.0,469.4 L780.0,469.4 L780.0,469.4 L782.0,469.4 L782.0,470.3 L784.0,470.3 L784.0,470.1 L786.0,470.1 L786.0,469.2 L788.0,469.2 L788.0,470.0 L790.0,470.0 L790.0,468.9 L792.0,468.9 L792.0,468.5 L794.0,468.5 L794.0,467.3 L796.0,467.3 L796.0,467.8 L798.0,467.8 L798.0,466.9 L800.0,466.9 L800.0,466.7 L802.0,466.7 L802.0,465.9 L804.0,465.9 L804.0,464.1 L806.0,464.1 L806.0,463.3 L808.0,463.3 L808.0,462.1 L810.0,462.1 L810.0,461.1 L812.0,461.1 L812.0,460.1 L814.0,460.1 L814.0,459.5 L816.0,459.5 L816.0,458.9 L818.0,458.9 L818.0,457.1 L820.0,457.1 L820.0,457.0 L822.0,457.0 L822.0,456.2 L824.0,456.2 L824.0,455.8 L826.0,455.8 L826.0,456.1 L828.0,456.1 L828.0,455.2 L830.0,455.2 L830.0,454.6 L832.0,454.6 L832.0,454.5 L834.0,454.5 L834.0,454.4 L836.0,454.4 L836.0,453.1 L838.0,453.1 L838.0,454.0 L840.0,454.0 L840.0,452.2 L842.0,452.2 L842.0,452.8 L844.0,452.8 L844.0,452.6 L846.0,452.6 L846.0,451.0 L848.0,451.0 L848.0,451.6 L850.0,451.6 L850.0,450.5 L852.0,450.5 L852.0,450.3 L854.0,450.3 L854.0,449.0 L856.0,449.0 L856.0,448.6 L858.0,448.6 L858.0,448.3 L860.0,448.3 L860.0,448.6 L862.0,448.6 L862.0,446.7 L864.0,446.7 L864.0,446.7 L866.0,446.7 L866.0,446.2 L868.0,446.2 L868.0,445.4 L870.0,445.4 L870.0,442.3 L872.0,442.3 L872.0,440.0 L874.0,440.0 L874.0,438.6 L876.0,438.6 L876.0,437.9 L878.0,437.9 L878.0,436.0 L880.0,436.0 L880.0,435.9 L882.0,435.9 L882.0,434.8 L884.0,434.8 L884.0,433.7 L886.0,433.7 L886.0,430.8 L888.0,430.8 L888.0,428.4 L890.0,428.4 L890.0,423.6 L892.0,423.6 L892.0,420.4 L894.0,420.4 L894.0,418.3 L896.0,418.3 L896.0,416.4 L898.0,416.4 L898.0,413.2 L900.0,413.2 L900.0,412.2 L902.0,412.2 L902.0,410.1 L904.0,410.1 L904.0,408.2 L906.0,408.2 L906.0,406.2 L908.0,406.2 L908.0,403.4 L910.0,403.4 L910.0,400.7 L912.0,400.7 L912.0,398.6 L914.0,398.6 L914.0,397.5 L916.0,397.5 L916.0,396.1 L918.0,396.1 L918.0,393.0 L920.0,393.0 L920.0,387.2 L922.0,387.2 L922.0,382.9 L924.0,382.9 L924.0,378.4 L926.0,378.4 L926.0,376.1 L928.0,376.1 L928.0,373.8 L930.0,373.8 L930.0,370.5 L932.0,370.5 L932.0,366.9 L934.0,366.9 L934.0,362.8 L936.0,362.8 L936.0,359.6 L938.0,359.6 L938.0,355.8 L940.0,355.8 L940.0,353.2 L942.0,353.2 L942.0,347.9 L944.0,347.9 L944.0,344.5 L946.0,344.5 L946.0,343.0 L948.0,343.0 L948.0,341.4 L950.0,341.4 L950.0,341.7 L952.0,341.7 L952.0,341.4 L954.0,341.4 L954.0,340.3 L956.0,340.3 L956.0,339.9 L958.0,339.9 L958.0,338.4 L960.0,338.4 L960.0,338.2 L962.0,338.2 L962.0,337.2 L964.0,337.2 L964.0,337.6 L966.0,337.6 L966.0,336.3 L968.0,336.3 L968.0,335.9 L970.0,335.9 L970.0,336.1 L972.0,336.1 L972.0,335.4 L974.0,335.4 L974.0,335.2 L976.0,335.2 L976.0,334.0 L978.0,334.0 L978.0,333.6 L980.0,333.6 L980.0,333.4 L982.0,333.4 L982.0,332.4 L984.0,332.4 L984.0,331.6 L986.0,331.6 L986.0,331.2 L988.0,331.2 L988.0,329.7 L990.0,329.7 L990.0,328.9 L992.0,328.9 L992.0,328.7 L994.0,328.7 L994.0,326.9 L996.0,326.9 L996.0,324.6 L998.0,324.6 L998.0,322.7 L1000.0,322.7 L1000.0,321.6 L1002.0,321.6 L1002.0,320.6 L1004.0,320.6 L1004.0,320.2 L1006.0,320.2 L1006.0,320.3 L1008.0,320.3 L1008.0,319.8 L1010.0,319.8 L1010.0,318.5 L1012.0,318.5 L1012.0,318.5 L1014.0,318.5 L1014.0,317.8 L1016.0,317.8 L1016.0,317.0 L1018.0,317.0 L1018.0,316.2 L1020.0,316.2 L1020.0,315.7 L1022.0,315.7 L1022.0,312.1 L1024.0,312.1 L1024.0,307.8 L1026.0,307.8 L1026.0,305.7 L1028.0,305.7 L1028.0,304.4 L1030.0,304.4 L1030.0,303.4 L1032.0,303.4 L1032.0,302.0 L1034.0,302.0 L1034.0,300.2 L1036.0,300.2 L1036.0,297.7 L1038.0,297.7 L1038.0,293.9 L1040.0,293.9 L1040.0,291.9 L1042.0,291.9 L1042.0,290.5 L1044.0,290.5 L1044.0,290.8 L1046.0,290.8 L1046.0,289.8 L1048.0,289.8 L1048.0,289.5 L1050.0,289.5 L1050.0,288.4 L1052.0,288.4 L1052.0,288.1 L1054.0,288.1 L1054.0,286.7 L1056.0,286.7 L1056.0,285.7 L1058.0,285.7 L1058.0,283.9 L1060.0,283.9 L1060.0,283.2 L1062.0,283.2 L1062.0,282.1 L1064.0,282.1 L1064.0,281.1 L1066.0,281.1 L1066.0,279.4 L1068.0,279.4 L1068.0,279.2 L1070.0,279.2 L1070.0,278.4 L1072.0,278.4 L1072.0,277.1 L1074.0,277.1 L1074.0,276.4 L1076.0,276.4 L1076.0,275.3 L1078.0,275.3 L1078.0,273.5 L1080.0,273.5 L1080.0,273.1 L1082.0,273.1 L1082.0,272.2 L1084.0,272.2 L1084.0,272.8 L1086.0,272.8 L1086.0,272.7 L1088.0,272.7 L1088.0,271.8 L1090.0,271.8 L1090.0,271.8 L1092.0,271.8 L1092.0,271.6 L1094.0,271.6 L1094.0,271.4 L1096.0,271.4 L1096.0,270.9 L1098.0,270.9 L1098.0,272.1 L1100.0,272.1 L1100.0,272.3 L1102.0,272.3 L1102.0,272.8 L1104.0,272.8 L1104.0,273.0 L1106.0,273.0 L1106.0,274.1 L1108.0,274.1 L1108.0,275.2 L1110.0,275.2 L1110.0,275.9 L1112.0,275.9 L1112.0,277.0 L1114.0,277.0 L1114.0,277.3 L1116.0,277.3 L1116.0,277.3 L1116.7,279.0 L1117.0,282.6 L1117.0,282.1 L1119.0,282.1 L1119.0,282.4 L1121.0,282.4 L1121.0,282.6 L1123.0,282.6 L1123.0,281.9 L1125.0,281.9 L1125.0,282.5 L1127.0,282.5 L1127.0,282.4 L1129.0,282.4 L1129.0,281.5 L1131.0,281.5 L1131.0,282.0 L1133.0,282.0 L1133.0,281.6 L1135.0,281.6 L1135.0,281.6 L1135.6,281.9 L1136.0,297.9 L1136.0,297.5 L1138.0,297.5 L1138.0,298.1 L1140.0,298.1 L1140.0,298.8 L1142.0,298.8 L1142.0,299.0 L1144.0,299.0 L1144.0,299.5 L1146.0,299.5 L1146.0,299.8 L1148.0,299.8 L1148.0,300.8 L1150.0,300.8 L1150.0,301.1 L1151.8,301.1 L1151.8,301.5 L1151.8,490 Z" fill="#dd3a77"/>
<path d="M144.0,490 L144.0,490.0 L300.0,490.0 L319.0,489.5 L335.0,485.8 L393.0,485.8 L480.0,485.4 L562.0,485.1 L565.0,484.4 L580.0,484.2 L645.0,482.3 L720.0,481.3 L722.0,481.0 L724.0,481.0 L724.0,480.5 L726.0,480.5 L726.0,479.6 L728.0,479.6 L728.0,478.8 L730.0,478.8 L730.0,477.9 L732.0,477.9 L732.0,478.4 L734.0,478.4 L734.0,477.7 L736.0,477.7 L736.0,477.8 L738.0,477.8 L738.0,476.9 L740.0,476.9 L740.0,477.1 L742.0,477.1 L742.0,476.1 L744.0,476.1 L744.0,476.5 L746.0,476.5 L746.0,476.0 L748.0,476.0 L748.0,475.2 L750.0,475.2 L750.0,475.1 L752.0,475.1 L752.0,475.1 L754.0,475.1 L754.0,474.2 L756.0,474.2 L756.0,474.4 L758.0,474.4 L758.0,474.5 L760.0,474.5 L760.0,473.5 L762.0,473.5 L762.0,474.1 L764.0,474.1 L764.0,473.6 L766.0,473.6 L766.0,473.6 L768.0,473.6 L768.0,472.7 L770.0,472.7 L770.0,472.2 L772.0,472.2 L772.0,473.1 L774.0,473.1 L774.0,472.9 L776.0,472.9 L776.0,472.3 L778.0,472.3 L778.0,471.7 L780.0,471.7 L780.0,471.7 L782.0,471.7 L782.0,472.2 L784.0,472.2 L784.0,471.6 L786.0,471.6 L786.0,472.4 L788.0,472.4 L788.0,471.7 L790.0,471.7 L790.0,470.6 L792.0,470.6 L792.0,470.6 L794.0,470.6 L794.0,469.6 L796.0,469.6 L796.0,469.8 L798.0,469.8 L798.0,469.2 L800.0,469.2 L800.0,468.0 L802.0,468.0 L802.0,467.5 L804.0,467.5 L804.0,466.8 L806.0,466.8 L806.0,466.2 L808.0,466.2 L808.0,465.7 L810.0,465.7 L810.0,463.6 L812.0,463.6 L812.0,463.3 L814.0,463.3 L814.0,463.0 L816.0,463.0 L816.0,462.4 L818.0,462.4 L818.0,462.6 L820.0,462.6 L820.0,461.7 L822.0,461.7 L822.0,462.5 L824.0,462.5 L824.0,461.7 L826.0,461.7 L826.0,460.8 L828.0,460.8 L828.0,461.2 L830.0,461.2 L830.0,460.4 L832.0,460.4 L832.0,459.9 L834.0,459.9 L834.0,459.8 L836.0,459.8 L836.0,458.8 L838.0,458.8 L838.0,458.4 L840.0,458.4 L840.0,458.8 L842.0,458.8 L842.0,458.1 L844.0,458.1 L844.0,456.7 L846.0,456.7 L846.0,457.3 L848.0,457.3 L848.0,455.8 L850.0,455.8 L850.0,455.9 L852.0,455.9 L852.0,456.3 L854.0,456.3 L854.0,455.5 L856.0,455.5 L856.0,454.6 L858.0,454.6 L858.0,454.3 L860.0,454.3 L860.0,453.7 L862.0,453.7 L862.0,452.7 L864.0,452.7 L864.0,453.3 L866.0,453.3 L866.0,451.3 L868.0,451.3 L868.0,451.2 L870.0,451.2 L870.0,450.3 L872.0,450.3 L872.0,448.6 L874.0,448.6 L874.0,448.1 L876.0,448.1 L876.0,446.3 L878.0,446.3 L878.0,446.6 L880.0,446.6 L880.0,445.7 L882.0,445.7 L882.0,444.3 L884.0,444.3 L884.0,443.1 L886.0,443.1 L886.0,441.0 L888.0,441.0 L888.0,439.0 L890.0,439.0 L890.0,435.8 L892.0,435.8 L892.0,432.3 L894.0,432.3 L894.0,430.6 L896.0,430.6 L896.0,429.3 L898.0,429.3 L898.0,427.3 L900.0,427.3 L900.0,425.3 L902.0,425.3 L902.0,424.7 L904.0,424.7 L904.0,422.4 L906.0,422.4 L906.0,421.1 L908.0,421.1 L908.0,419.8 L910.0,419.8 L910.0,417.2 L912.0,417.2 L912.0,415.4 L914.0,415.4 L914.0,413.9 L916.0,413.9 L916.0,413.0 L918.0,413.0 L918.0,411.0 L920.0,411.0 L920.0,408.0 L922.0,408.0 L922.0,405.4 L924.0,405.4 L924.0,403.2 L926.0,403.2 L926.0,400.7 L928.0,400.7 L928.0,399.3 L930.0,399.3 L930.0,398.3 L932.0,398.3 L932.0,395.7 L934.0,395.7 L934.0,392.2 L936.0,392.2 L936.0,389.5 L938.0,389.5 L938.0,386.5 L940.0,386.5 L940.0,383.7 L942.0,383.7 L942.0,382.0 L944.0,382.0 L944.0,380.4 L946.0,380.4 L946.0,381.1 L948.0,381.1 L948.0,380.5 L950.0,380.5 L950.0,380.9 L952.0,380.9 L952.0,381.4 L954.0,381.4 L954.0,381.3 L956.0,381.3 L956.0,380.5 L958.0,380.5 L958.0,380.8 L960.0,380.8 L960.0,380.4 L962.0,380.4 L962.0,380.6 L964.0,380.6 L964.0,380.7 L966.0,380.7 L966.0,381.1 L968.0,381.1 L968.0,381.3 L970.0,381.3 L970.0,380.4 L972.0,380.4 L972.0,380.0 L974.0,380.0 L974.0,380.6 L976.0,380.6 L976.0,379.9 L978.0,379.9 L978.0,379.1 L980.0,379.1 L980.0,379.4 L982.0,379.4 L982.0,377.7 L984.0,377.7 L984.0,377.3 L986.0,377.3 L986.0,375.7 L988.0,375.7 L988.0,374.9 L990.0,374.9 L990.0,372.6 L992.0,372.6 L992.0,369.4 L994.0,369.4 L994.0,368.6 L996.0,368.6 L996.0,369.6 L998.0,369.6 L998.0,369.2 L1000.0,369.2 L1000.0,368.9 L1002.0,368.9 L1002.0,369.4 L1004.0,369.4 L1004.0,369.4 L1006.0,369.4 L1006.0,369.0 L1008.0,369.0 L1008.0,369.0 L1010.0,369.0 L1010.0,368.4 L1012.0,368.4 L1012.0,368.8 L1014.0,368.8 L1014.0,368.5 L1016.0,368.5 L1016.0,369.2 L1018.0,369.2 L1018.0,369.1 L1020.0,369.1 L1020.0,368.5 L1022.0,368.5 L1022.0,363.7 L1024.0,363.7 L1024.0,360.1 L1026.0,360.1 L1026.0,359.9 L1028.0,359.9 L1028.0,360.4 L1030.0,360.4 L1030.0,360.0 L1032.0,360.0 L1032.0,360.4 L1034.0,360.4 L1034.0,359.7 L1036.0,359.7 L1036.0,359.0 L1038.0,359.0 L1038.0,355.5 L1040.0,355.5 L1040.0,355.6 L1042.0,355.6 L1042.0,354.2 L1044.0,354.2 L1044.0,354.5 L1046.0,354.5 L1046.0,354.5 L1048.0,354.5 L1048.0,354.1 L1050.0,354.1 L1050.0,353.7 L1052.0,353.7 L1052.0,353.7 L1054.0,353.7 L1054.0,354.7 L1056.0,354.7 L1056.0,355.5 L1058.0,355.5 L1058.0,355.2 L1060.0,355.2 L1060.0,357.0 L1062.0,357.0 L1062.0,356.9 L1064.0,356.9 L1064.0,356.1 L1066.0,356.1 L1066.0,356.4 L1068.0,356.4 L1068.0,355.8 L1070.0,355.8 L1070.0,355.4 L1072.0,355.4 L1072.0,355.8 L1074.0,355.8 L1074.0,354.5 L1076.0,354.5 L1076.0,355.1 L1078.0,355.1 L1078.0,354.8 L1080.0,354.8 L1080.0,353.3 L1082.0,353.3 L1082.0,353.7 L1084.0,353.7 L1084.0,352.0 L1086.0,352.0 L1086.0,352.5 L1088.0,352.5 L1088.0,351.1 L1090.0,351.1 L1090.0,351.5 L1092.0,351.5 L1092.0,350.2 L1094.0,350.2 L1094.0,349.9 L1096.0,349.9 L1096.0,347.9 L1098.0,347.9 L1098.0,348.0 L1100.0,348.0 L1100.0,349.0 L1102.0,349.0 L1102.0,348.8 L1104.0,348.8 L1104.0,348.6 L1106.0,348.6 L1106.0,347.9 L1108.0,347.9 L1108.0,348.1 L1110.0,348.1 L1110.0,348.4 L1112.0,348.4 L1112.0,348.0 L1114.0,348.0 L1114.0,349.3 L1116.0,349.3 L1116.0,349.3 L1116.7,348.6 L1117.0,358.8 L1117.0,359.2 L1119.0,359.2 L1119.0,359.5 L1121.0,359.5 L1121.0,359.2 L1123.0,359.2 L1123.0,358.8 L1125.0,358.8 L1125.0,358.5 L1127.0,358.5 L1127.0,359.5 L1129.0,359.5 L1129.0,358.7 L1131.0,358.7 L1131.0,359.3 L1133.0,359.3 L1133.0,359.3 L1135.0,359.3 L1135.0,359.3 L1135.6,359.4 L1136.0,378.5 L1136.0,378.5 L1138.0,378.5 L1138.0,377.9 L1140.0,377.9 L1140.0,377.9 L1142.0,377.9 L1142.0,378.5 L1144.0,378.5 L1144.0,377.8 L1146.0,377.8 L1146.0,378.5 L1148.0,378.5 L1148.0,378.0 L1150.0,378.0 L1150.0,378.2 L1151.8,378.2 L1151.8,378.5 L1151.8,490 Z" fill="#000090"/><rect x="143" y="489.2" width="158" height="1" fill="#181828"/><path d="M144,486.8 L300,486.6 L300,489.2 L144,489.2 Z" fill="url(#pg)"/><path d="M300.0,490.0 L301.0,488.8 L319.0,487.4 L335.0,484.3 L393.0,483.5 L480.0,483.2 L562.0,482.8 L565.0,481.8 L580.0,481.4 L645.0,479.4 L720.0,478.0 L720.0,481.3 L645.0,482.3 L580.0,484.2 L565.0,484.4 L562.0,485.1 L480.0,485.4 L393.0,485.8 L335.0,485.8 L319.0,489.5 L300.0,490.0 Z" fill="url(#lg)"/>
<circle cx="334.2" cy="108.3" r="8.3" fill="#0606aa"/><circle cx="432.2" cy="108.3" r="8.3" fill="#dd3a77"/><circle cx="530.5" cy="108.3" r="8.3" fill="#06ebef"/><circle cx="628.6" cy="108.3" r="8.3" fill="#ff7d4a"/><circle cx="726.8" cy="108.3" r="8.3" fill="#fde96a"/><circle cx="824.8" cy="108.3" r="8.3" fill="#3b18ca"/>
<text x="506.5" y="62.2" font-size="21" fill="#f6f4fc" stroke="#f6f4fc" stroke-width="0.3" text-anchor="start" textLength="226.5" lengthAdjust="spacingAndGlyphs">Stablecoin Market Cap</text><text x="351.2" y="114.6" font-size="16.8" fill="#f6f4fc" stroke="#f6f4fc" stroke-width="0.3" text-anchor="start" textLength="44.3" lengthAdjust="spacingAndGlyphs">USDT</text><text x="449.2" y="114.6" font-size="16.8" fill="#f6f4fc" stroke="#f6f4fc" stroke-width="0.3" text-anchor="start" textLength="45.7" lengthAdjust="spacingAndGlyphs">USDC</text><text x="547.5" y="114.6" font-size="16.8" fill="#f6f4fc" stroke="#f6f4fc" stroke-width="0.3" text-anchor="start" textLength="45.5" lengthAdjust="spacingAndGlyphs">BUSD</text><text x="645.6" y="114.6" font-size="16.8" fill="#f6f4fc" stroke="#f6f4fc" stroke-width="0.3" text-anchor="start" textLength="28" lengthAdjust="spacingAndGlyphs">DAI</text><text x="743.8" y="114.6" font-size="16.8" fill="#f6f4fc" stroke="#f6f4fc" stroke-width="0.3" text-anchor="start" textLength="31.7" lengthAdjust="spacingAndGlyphs">MIM</text><text x="841.8" y="114.6" font-size="16.8" fill="#f6f4fc" stroke="#f6f4fc" stroke-width="0.3" text-anchor="start" textLength="77.7" lengthAdjust="spacingAndGlyphs">11 Others</text><text x="107" y="162.9" font-size="15.6" fill="#f6f4fc" stroke="#f6f4fc" stroke-width="0.3" text-anchor="middle" textLength="39.2" lengthAdjust="spacingAndGlyphs">200b</text><text x="107" y="247.4" font-size="15.6" fill="#f6f4fc" stroke="#f6f4fc" stroke-width="0.3" text-anchor="middle" textLength="39.1" lengthAdjust="spacingAndGlyphs">150b</text><text x="107" y="332.2" font-size="15.6" fill="#f6f4fc" stroke="#f6f4fc" stroke-width="0.3" text-anchor="middle" textLength="39.1" lengthAdjust="spacingAndGlyphs">100b</text><text x="107" y="416.9" font-size="15.6" fill="#f6f4fc" stroke="#f6f4fc" stroke-width="0.3" text-anchor="middle" textLength="29" lengthAdjust="spacingAndGlyphs">50b</text><text x="107" y="492.4" font-size="15.6" fill="#f6f4fc" stroke="#f6f4fc" stroke-width="0.3" text-anchor="middle" textLength="9.4" lengthAdjust="spacingAndGlyphs">0</text><text x="143.9" y="515.1" font-size="15.6" fill="#f6f4fc" stroke="#f6f4fc" stroke-width="0.3" text-anchor="middle" textLength="39.2" lengthAdjust="spacingAndGlyphs">2017</text><text x="323.2" y="515.1" font-size="15.6" fill="#f6f4fc" stroke="#f6f4fc" stroke-width="0.3" text-anchor="middle" textLength="39.2" lengthAdjust="spacingAndGlyphs">2018</text><text x="503.8" y="515.1" font-size="15.6" fill="#f6f4fc" stroke="#f6f4fc" stroke-width="0.3" text-anchor="middle" textLength="39.2" lengthAdjust="spacingAndGlyphs">2019</text><text x="697.1" y="515.1" font-size="15.6" fill="#f6f4fc" stroke="#f6f4fc" stroke-width="0.3" text-anchor="middle" textLength="39.2" lengthAdjust="spacingAndGlyphs">2020</text><text x="871.6" y="515.1" font-size="15.6" fill="#f6f4fc" stroke="#f6f4fc" stroke-width="0.3" text-anchor="middle" textLength="39.2" lengthAdjust="spacingAndGlyphs">2021</text><text x="1052.3" y="515.1" font-size="15.6" fill="#f6f4fc" stroke="#f6f4fc" stroke-width="0.3" text-anchor="middle" textLength="39.2" lengthAdjust="spacingAndGlyphs">2022</text><text x="934.5" y="589.3" font-size="13.8" fill="#7b7a8e" stroke="#7b7a8e" stroke-width="0.3" text-anchor="start" textLength="215.7" lengthAdjust="spacingAndGlyphs">Source: THE BLOCK, COIN METRICS</text>
<rect x="1238" y="0" width="1" height="620" fill="#05040f"/>
<rect x="1239" y="0" width="1" height="620" fill="#d2d0e0"/>
</svg>
</body></html>
